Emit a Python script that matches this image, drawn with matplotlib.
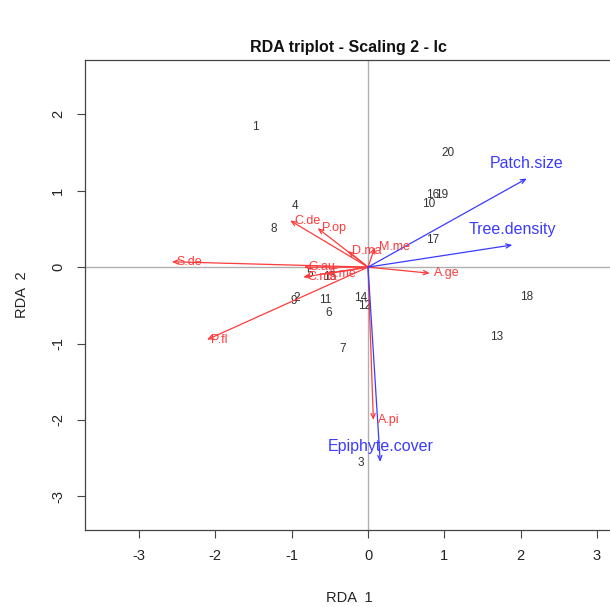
import matplotlib
matplotlib.use("Agg")
import matplotlib.pyplot as plt

plt.rcParams['font.family'] = ['Liberation Sans', 'DejaVu Sans']
plt.rcParams['axes.unicode_minus'] = False

# Site scores
site_labels = ['1', '2', '3', '4', '5', '6', '7', '8', '9', '10',
               '11', '12', '13', '14', '15', '16', '17', '18', '19', '20']
site_x = [-1.48, -0.93, -0.10, -0.96, -0.76, -0.52, -0.33, -1.23, -0.97, 0.80,
          -0.56, -0.04, 1.69, -0.10, -0.50, 0.85, 0.85, 2.08, 0.97, 1.05]
site_y = [1.83, -0.41, -2.56, 0.80, -0.09, -0.60, -1.07, 0.50, -0.44, 0.82,
          -0.43, -0.51, -0.92, -0.41, -0.13, 0.94, 0.35, -0.39, 0.95, 1.50]

# Species scores (arrows)
sp_labels = ['S.de', 'P.fl', 'C.de', 'P.op', 'D.ma', 'M.me', 'G.au', 'C.ma', 'T.me', 'A.ge', 'A.pi']
sp_x = [-2.57, -2.11, -1.02, -0.66, -0.26, 0.09, -0.84, -0.85, -0.56, 0.81, 0.07]
sp_y = [0.07, -0.95, 0.61, 0.51, 0.21, 0.26, 0.00, -0.13, -0.09, -0.08, -2.00]

# Explanatory variables (arrows)
env_labels = ['Patch.size', 'Tree.density', 'Epiphyte.cover']
env_x = [2.08, 1.89, 0.16]
env_y = [1.16, 0.29, -2.55]

fig = plt.figure(figsize=(6.10, 6.07), dpi=100)
ax = fig.add_axes([0.139, 0.127, 0.866, 0.774])
ax.set_xlim(-3.71, 3.21)
ax.set_ylim(-3.44, 2.71)

ax.axhline(0, color='#b0b0b0', lw=1.0, zorder=1)
ax.axvline(0, color='#b0b0b0', lw=1.0, zorder=1)

# Sites
for lab, x, y in zip(site_labels, site_x, site_y):
    ax.text(x, y, lab, fontsize=8.5, color='#333333', ha='center', va='center', zorder=3)

red = '#ff3b3b'
blue = '#3b3bff'

for lab, x, y in zip(sp_labels, sp_x, sp_y):
    ax.annotate('', xy=(x, y), xytext=(0, 0),
                arrowprops=dict(arrowstyle='->,head_length=0.35,head_width=0.15',
                                color=red, lw=0.9, shrinkA=0, shrinkB=0), zorder=4)
    ax.annotate(lab, xy=(x, y), xytext=(3, 0), textcoords='offset points',
                fontsize=9, color=red, ha='left', va='center', zorder=5)

for lab, x, y in zip(env_labels, env_x, env_y):
    ax.annotate('', xy=(x, y), xytext=(0, 0),
                arrowprops=dict(arrowstyle='->,head_length=0.35,head_width=0.15',
                                color=blue, lw=0.9, shrinkA=0, shrinkB=0), zorder=4)
    ax.annotate(lab, xy=(x, y), xytext=(0, 11), textcoords='offset points',
                fontsize=11.5, color=blue, ha='center', va='center', zorder=5)

ax.set_xticks([-3, -2, -1, 0, 1, 2, 3])
ax.set_yticks([-3, -2, -1, 0, 1, 2])
ax.tick_params(axis='both', direction='out', length=6, width=0.8, color='#444444',
               labelsize=10.5, labelcolor='#222222', pad=8)
for t in ax.get_yticklabels():
    t.set_rotation(90)
    t.set_va('center')
for s in ax.spines.values():
    s.set_color('#444444')
    s.set_linewidth(0.9)

ax.set_xlabel('RDA  1', fontsize=10.5, color='#222222', labelpad=20)
ax.set_ylabel('RDA  2', fontsize=10.5, color='#222222', labelpad=16)
fig.text(0.572, 0.921, 'RDA triplot - Scaling 2 - lc', fontsize=11.5, fontweight='bold',
         ha='center', va='center', color='#111111')

fig.savefig('out.png', dpi=100)
